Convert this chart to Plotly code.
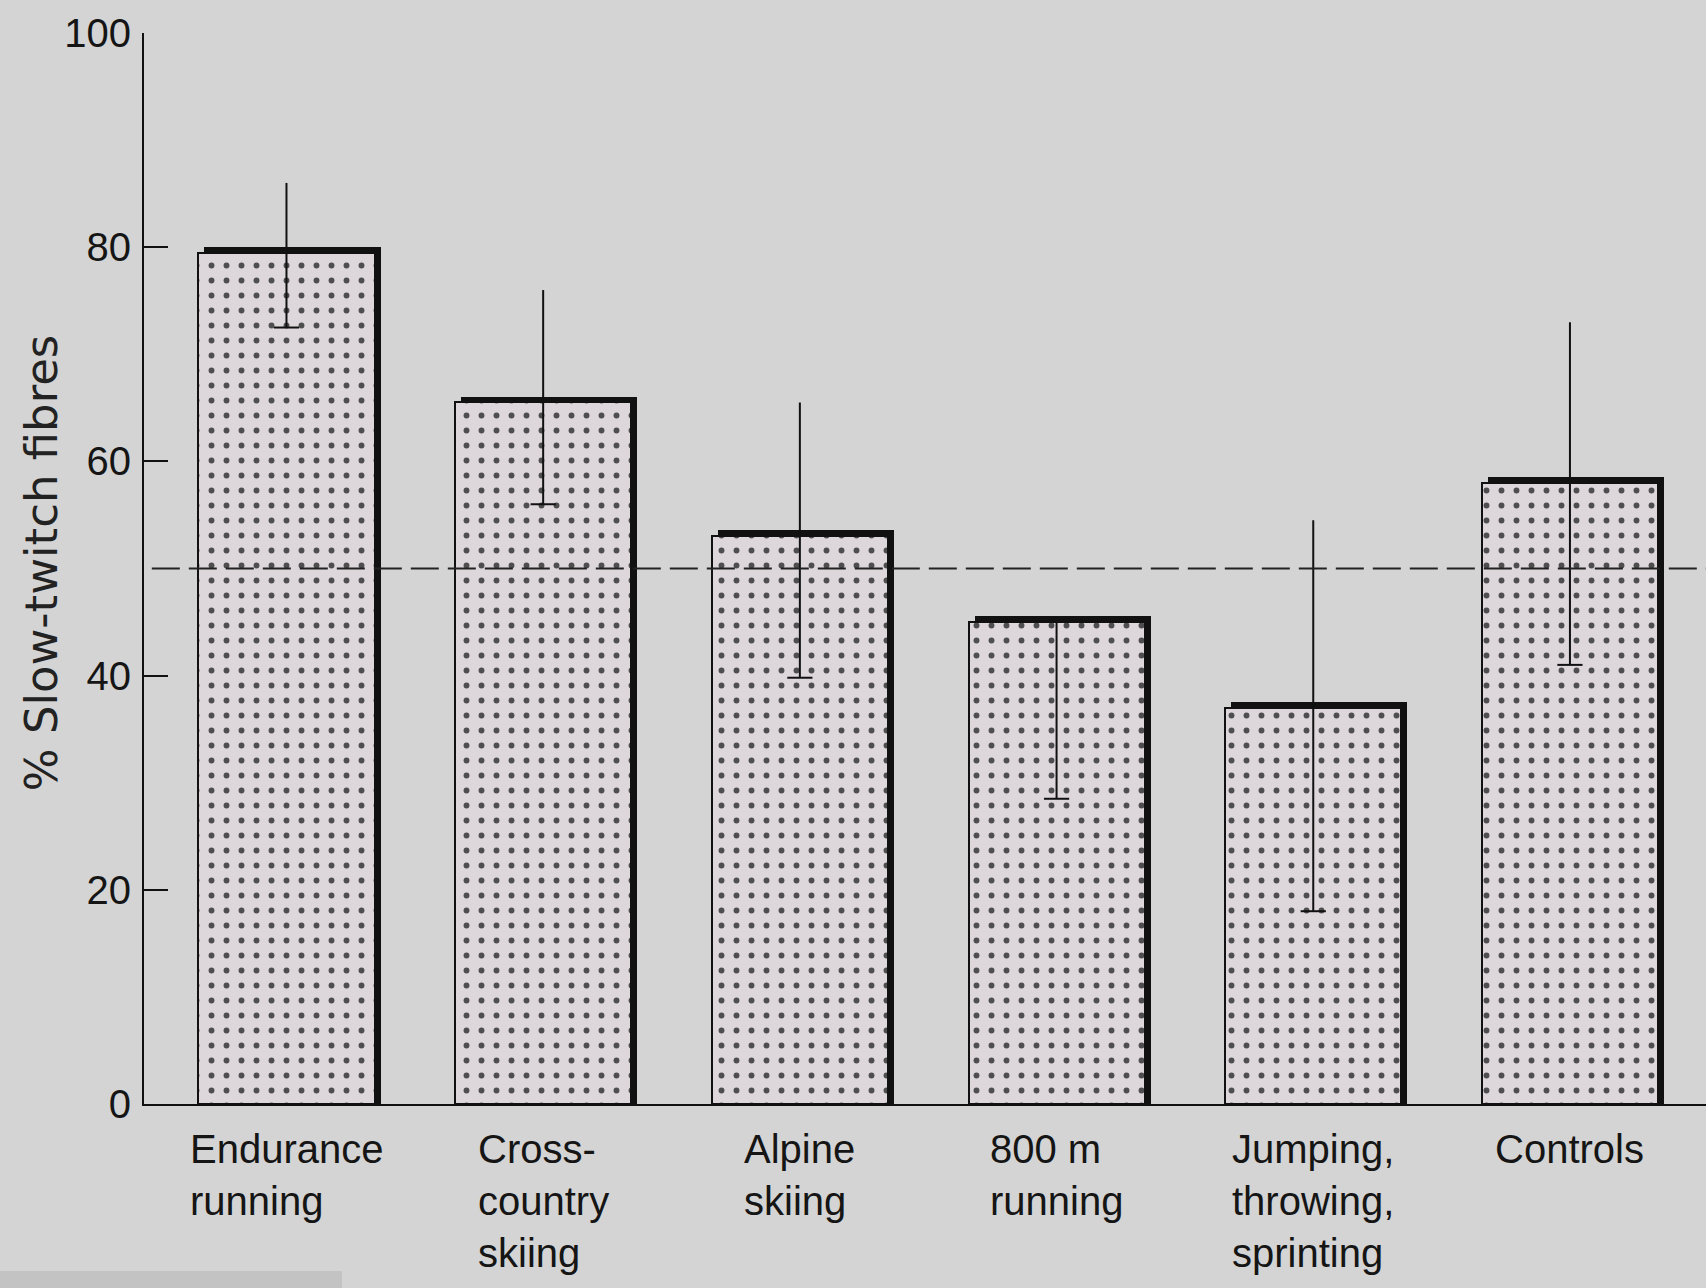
import plotly.graph_objects as go

# Muscle fibre composition by sport (mean and spread, % slow-twitch fibres)
groups = ["Endurance running", "Cross-country skiing", "Alpine skiing",
          "800 m running", "Jumping, throwing, sprinting", "Controls"]
group_labels = ["Endurance<br>running", "Cross-<br>country<br>skiing", "Alpine<br>skiing",
                "800 m<br>running", "Jumping,<br>throwing,<br>sprinting", "Controls"]
mean_pct = [79.5, 65.5, 53, 45, 37, 58]
whisker_top = [86, 76, 65.5, 45, 54.5, 73]
whisker_bottom = [72.5, 56, 39.8, 28.5, 18, 41]
reference_level = 50
y_ticks = [0, 20, 40, 60, 80, 100]

BG = "#d4d4d4"
INK = "#151515"
BAR_W = 0.686
X_RANGE = [-0.555, 5.530]
PX_PER_X = 1562 / (X_RANGE[1] - X_RANGE[0])
PX_PER_Y = 1071 / 100

fig = go.Figure()

# heavy black shadow behind each bar -> thick top and right edges
fig.add_trace(go.Bar(
    x=groups, y=[v + 6 / PX_PER_Y for v in mean_pct],
    width=BAR_W, offset=-BAR_W / 2 + 6 / PX_PER_X,
    marker=dict(color="#111111", line=dict(width=0)),
    hoverinfo="skip", showlegend=False,
))

# stippled bars
fig.add_trace(go.Bar(
    x=groups, y=mean_pct,
    width=BAR_W, offset=-BAR_W / 2,
    marker=dict(
        color="#ddd6db",
        line=dict(color="#111111", width=2),
        pattern=dict(shape=".", size=15, solidity=0.12,
                     fgcolor="#4e4e4e", bgcolor="#ddd6db", fillmode="replace"),
    ),
    showlegend=False,
))

# whiskers
wx, wy = [], []
for g, lo, hi in zip(groups, whisker_bottom, whisker_top):
    wx += [g, g, None]
    wy += [lo, hi, None]
fig.add_trace(go.Scatter(
    x=wx, y=wy, mode="lines",
    line=dict(color="#111111", width=2),
    hoverinfo="skip", showlegend=False,
))
fig.add_trace(go.Scatter(
    x=groups, y=whisker_bottom, mode="markers",
    marker=dict(symbol="line-ew", size=18, line=dict(color="#111111", width=2)),
    hoverinfo="skip", showlegend=False,
))

# 50 % reference line
fig.add_shape(type="line", xref="paper", yref="y",
              x0=0.005, x1=1, y0=reference_level, y1=reference_level,
              line=dict(color="#222222", width=2, dash="28px,9px"), layer="above")

# category labels, left-aligned lines centred under each bar
for g, lab in zip(groups, group_labels):
    fig.add_annotation(x=g, y=0, xref="x", yref="y", text=lab,
                       showarrow=False, xanchor="center", yanchor="top",
                       align="left", yshift=-21,
                       font=dict(family="Liberation Sans, Arial, sans-serif", size=40, color=INK))

# axis title
fig.add_annotation(x=-(144 - 41) / 1562, y=0.505, xref="paper", yref="paper",
                   text="% Slow-twitch fibres", textangle=-90, showarrow=False,
                   xanchor="center", yanchor="middle",
                   font=dict(family="DejaVu Sans, sans-serif", size=45, color="#222222"))

# grey strip along the bottom-left edge
fig.add_shape(type="rect", xref="paper", yref="paper",
              x0=-144 / 1562, x1=(342 - 144) / 1562,
              y0=-(1288 - 1104) / 1071 - 0.01, y1=-(1271 - 1104) / 1071,
              fillcolor="#c3c3c3", line=dict(width=0), layer="below")

fig.update_layout(
    width=1706, height=1288,
    margin=dict(l=144, r=0, t=33, b=184),
    paper_bgcolor=BG, plot_bgcolor=BG,
    barmode="overlay", bargap=0,
    xaxis=dict(type="category", categoryarray=groups, range=X_RANGE,
               showticklabels=False, ticks="", showgrid=False, zeroline=False,
               showline=True, linecolor="#111111", linewidth=2),
    yaxis=dict(range=[0, 100], tickvals=y_ticks, ticks="inside", ticklen=24,
               tickwidth=2, tickcolor="#111111", showgrid=False, zeroline=False,
               showline=True, linecolor="#111111", linewidth=2,
               ticklabelstandoff=3,
               tickfont=dict(family="Liberation Sans, Arial, sans-serif",
                             size=40, color=INK)),
    font=dict(family="Liberation Sans, Arial, sans-serif", color=INK),
)

fig.write_html("out.html")
